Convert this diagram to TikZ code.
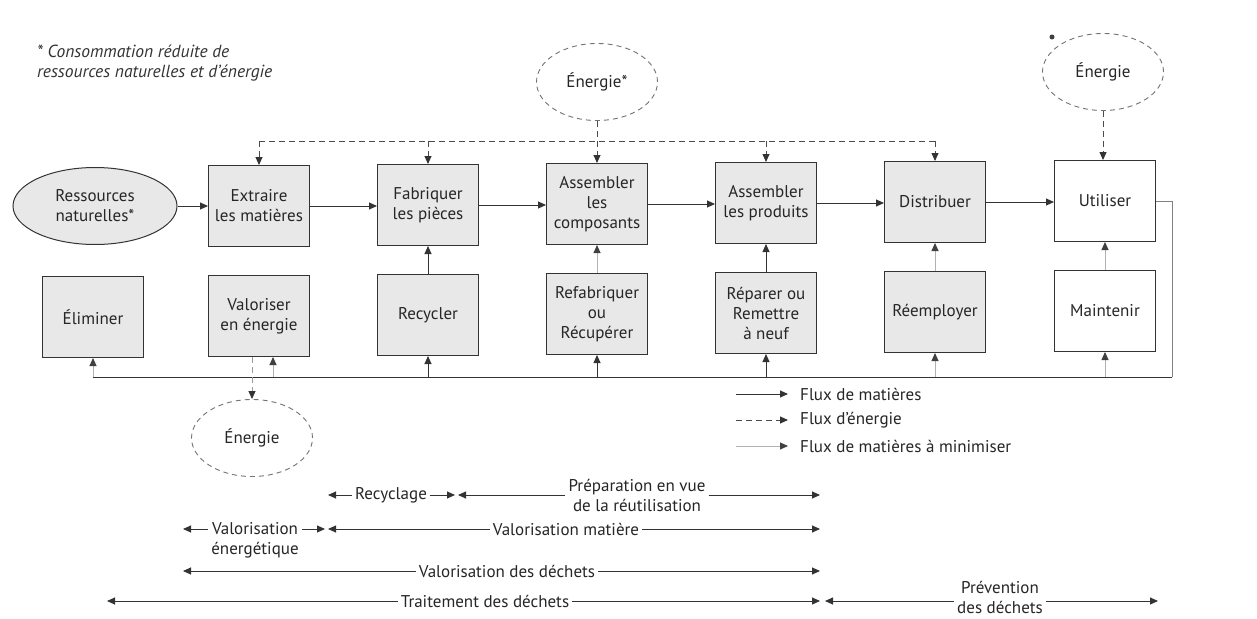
\documentclass[tikz,border=0pt]{standalone}
\usepackage{fontspec}
\setmainfont{PT Sans}
\usetikzlibrary{arrows.meta,shapes.geometric,calc}
\newcommand\bxf{\fontsize{17}{20}\selectfont}
\newcommand\ntf{\fontsize{17.5}{19.5}\selectfont}
\tikzset{
 box/.style={draw=black!80, line width=1pt, fill=black!9, minimum width=101pt, minimum height=81pt, inner sep=1pt, align=center, font=\bxf, text=black!85},
 wbox/.style={box, fill=white},
 flow/.style={draw=black!80, line width=0.9pt, -{Triangle[length=8pt,width=7pt]}},
 minflow/.style={draw=black!30, line width=0.9pt, -{Triangle[length=8pt,width=7pt,color=black!75]}},
 eflow/.style={draw=black!70, line width=0.9pt, dash pattern=on 6pt off 4pt, -{Triangle[length=8pt,width=7pt,color=black!80]}},
 eline/.style={draw=black!70, line width=0.9pt, dash pattern=on 6pt off 4pt},
 enell/.style={ellipse, draw=black!55, line width=0.9pt, dash pattern=on 5pt off 4pt, minimum width=121pt, minimum height=77pt, inner sep=0pt, font=\bxf, text=black!85},
 lab/.style={font=\bxf, align=center, text=black!85, inner sep=3pt},
 plain/.style={draw=black!80, line width=0.9pt},
}
\begin{document}
\begin{tikzpicture}[x=1pt,y=-1pt]
\useasboundingbox[fill=white] (0,0) rectangle (1257,618);

% note
\node[anchor=north west, font=\ntf\itshape, align=left, inner sep=0pt, text=black!80] (note) at (37,45) {* Consommation réduite de\\ressources naturelles et d'énergie};

% row 1
\node[ellipse, draw=black!80, line width=1pt, fill=black!9, minimum width=164pt, minimum height=77pt, inner sep=0pt, align=center, font=\bxf, text=black!85] (res) at (95,206) {Ressources\\naturelles*};
\node[box] (ext) at (259,206) {Extraire\\les matières};
\node[box] (fab) at (428,205) {Fabriquer\\les pièces};
\node[box] (asc) at (597,204) {Assembler\\les\\composants};
\node[box] (asp) at (766,203) {Assembler\\les produits};
\node[box] (dis) at (935,202) {Distribuer};
\node[wbox] (uti) at (1105,201) {Utiliser};

% row 2
\node[box] (eli) at (93,317) {Éliminer};
\node[box] (val) at (259,316) {Valoriser\\en énergie};
\node[box] (rcy) at (428,315) {Recycler};
\node[box] (rfb) at (597,314) {Refabriquer\\ou\\Récupérer};
\node[box] (rep) at (766,313) {Réparer ou\\Remettre\\à neuf};
\node[box] (ree) at (935,312) {Réemployer};
\node[wbox] (mai) at (1105,311) {Maintenir};

% energy ellipses
\node[enell] (en1) at (597,82) {Énergie*};
\node[enell] (en2) at (1103,72) {Énergie};
\node[enell] (en3) at (252,438) {Énergie};
\fill[black!75] (1052,37) circle (2.5pt);

% material flows row 1
\draw[flow] (res.east) -- (ext.west);
\draw[flow] (ext.east) -- (fab.west |- ext.east);
\draw[flow] (fab.east) -- (asc.west |- fab.east);
\draw[flow] (asc.east) -- (asp.west |- asc.east);
\draw[flow] (asp.east) -- (dis.west |- asp.east);
\draw[flow] (dis.east) -- (uti.west |- dis.east);

% vertical flows
\draw[flow] (rcy) -- (fab);
\draw[minflow] (rfb) -- (asc);
\draw[flow] (rep) -- (asp);
\draw[minflow] (ree) -- (dis);
\draw[minflow] (mai) -- (uti);

% energy distribution line
\coordinate (dl) at (0,141);
\draw[eline] (ext.north |- dl) -- (dis.north |- dl);
\draw[eflow] (ext.north |- dl) -- (ext.north);
\draw[eflow] (fab.north |- dl) -- (fab.north);
\draw[eflow] (asp.north |- dl) -- (asp.north);
\draw[eflow] (dis.north |- dl) -- (dis.north);
\draw[eflow] (en1.south) -- (asc.north);
\draw[eflow] (en2.south) -- (en2.south |- uti.north);

% collector line
\coordinate (br) at (1172,377);
\coordinate (bl) at (93,377);
\draw[draw=black!50, line width=0.9pt] (uti.east) -| (br);
\draw[plain] (br) -- (bl);
\draw[minflow] (bl) -- (eli.south);
\coordinate (vu) at ($(val.south)+(14,0)$);
\draw[minflow] (vu |- bl) -- (vu);
\draw[flow] (rcy.south |- bl) -- (rcy.south);
\draw[flow] (rfb.south |- bl) -- (rfb.south);
\draw[flow] (rep.south |- bl) -- (rep.south);
\draw[minflow] (ree.south |- bl) -- (ree.south);
\draw[minflow] (mai.south |- bl) -- (mai.south);
\coordinate (vs) at ($(val.south)+(-7,0)$);
\draw[eflow, draw=black!40] (vs) -- (vs |- en3.north);

% legend
\coordinate (la1) at (736,394); \coordinate (lb1) at (788,394);
\coordinate (la2) at (736,420); \coordinate (lb2) at (788,420);
\coordinate (la3) at (736,446); \coordinate (lb3) at (788,446);
\draw[flow] (la1) -- (lb1);
\draw[eflow] (la2) -- (lb2);
\draw[minflow] (la3) -- (lb3);
\node[lab, anchor=west] (lt1) at (797,394) {Flux de matières};
\node[lab, anchor=west] (lt2) at (797,420) {Flux d'énergie};
\node[lab, anchor=west] (lt3) at (797,446) {Flux de matières à minimiser};

% bottom scale rows
\node[lab] (trec) at (391,495) {Recyclage};
\coordinate (a1) at (328,495); \coordinate (a2) at (455,495);
\draw[flow] (trec.west) -- (a1);
\draw[flow] (trec.east) -- (a2);
\node[lab] (tprep) at (637,495) {Préparation en vue\\de la réutilisation};
\coordinate (a3) at (458,495); \coordinate (a4) at (820,495);
\draw[flow] (tprep.west) -- (a3);
\draw[flow] (tprep.east) -- (a4);

\coordinate (b1) at (183,529); \coordinate (b2) at (325,529);
\node[lab] (tvne) at (255,540) {Valorisation\\énergétique};
\draw[flow] (tvne.west |- b1) -- (b1);
\draw[flow] (tvne.east |- b1) -- (b2);
\node[lab] (tvm) at (566,529) {Valorisation matière};
\coordinate (b3) at (328,529); \coordinate (b4) at (820,529);
\draw[flow] (tvm.west) -- (b3);
\draw[flow] (tvm.east) -- (b4);

\node[lab] (tvd) at (507,571) {Valorisation des déchets};
\coordinate (c1) at (183,571); \coordinate (c2) at (820,571);
\draw[flow] (tvd.west) -- (c1);
\draw[flow] (tvd.east) -- (c2);

\node[lab] (ttr) at (485,601) {Traitement des déchets};
\coordinate (d1) at (107,601); \coordinate (d2) at (820,601);
\draw[flow] (ttr.west) -- (d1);
\draw[flow] (ttr.east) -- (d2);
\node[lab] (tpr) at (1000,597) {Prévention\\des déchets};
\coordinate (d3) at (825,601); \coordinate (d4) at (1158,601);
\draw[flow] (tpr.west |- d3) -- (d3);
\draw[flow] (tpr.east |- d4) -- (d4);
\end{tikzpicture}
\end{document}
